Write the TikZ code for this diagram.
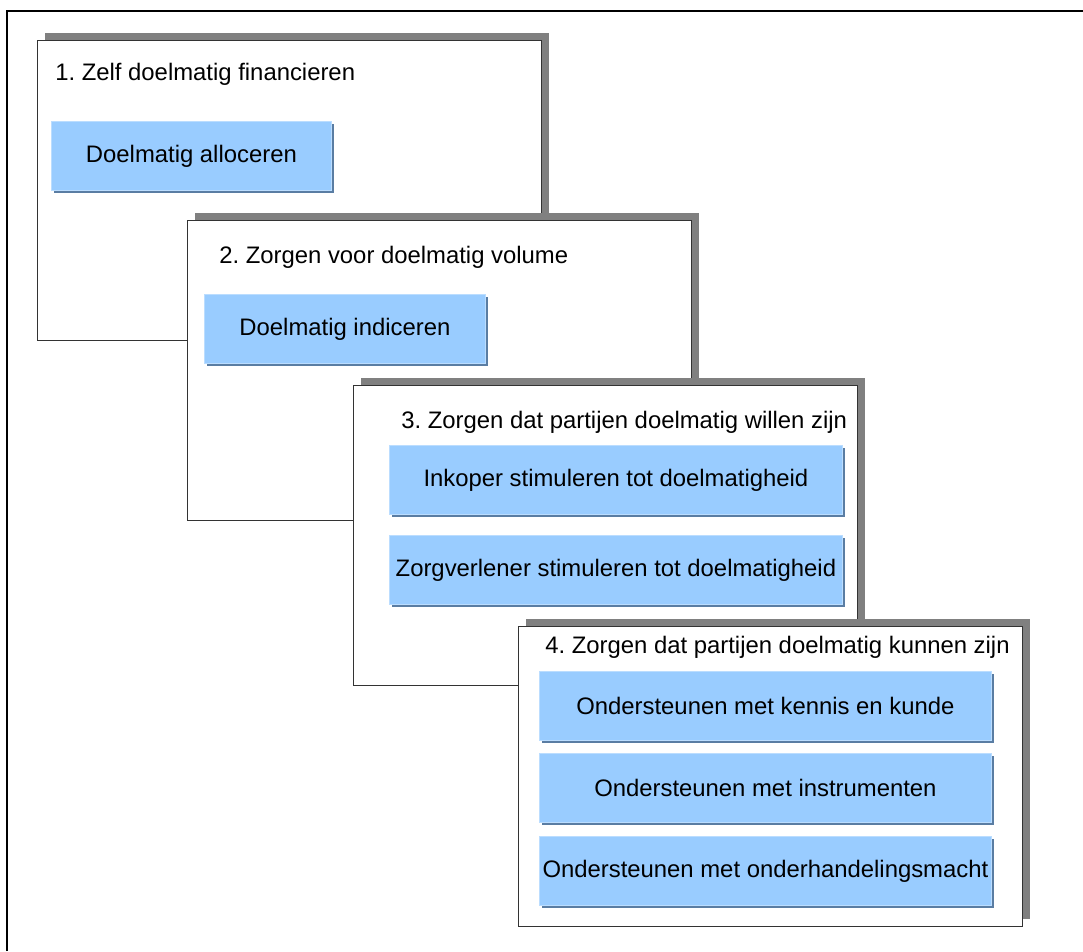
\documentclass[tikz,border=0pt]{standalone}
\usepackage{fontspec}
\setmainfont{Liberation Sans}
\usetikzlibrary{shadows}
\frenchspacing
\definecolor{itemblue}{HTML}{99CCFF}
\definecolor{itemedge}{HTML}{BBDDFF}
\definecolor{itemshade}{HTML}{5A7DA3}
\definecolor{panelshade}{HTML}{808080}
\definecolor{panelline}{HTML}{333333}
\tikzset{
  panel/.style={draw=panelline, line width=0.8pt, fill=white, anchor=north west,
    inner sep=0pt, minimum width=378pt, minimum height=225pt,
    drop shadow={shadow xshift=5.6pt, shadow yshift=6pt, fill=panelshade, opacity=1}},
  paneltitle/.style={anchor=base west, inner sep=0pt, font=\fontsize{17.9}{21}\selectfont},
  itembox/.style={draw=itemedge, line width=0.6pt, fill=itemblue, anchor=north west,
    inner sep=0pt, minimum height=51.75pt, font=\fontsize{17.9}{21}\selectfont,
    drop shadow={shadow xshift=1.6pt, shadow yshift=-1.8pt, fill=itemshade, opacity=1}},
  frameline/.style={line width=1.9pt, black}
}
\begin{document}
\begin{tikzpicture}[x=0.75pt,y=-0.75pt]
\useasboundingbox (0,0) rectangle (1083,951);
% outer frame (only top and left edges visible)
\coordinate (fbl) at (7,951);
\coordinate (ftl) at (7,11);
\coordinate (ftr) at (1083,11);
\draw[frameline] (fbl) -- (ftl) -- (ftr);

% panel 1
\node[panel] (b1) at (37,40) {};
\node[paneltitle] (t1) at (55,80) {1. Zelf doelmatig financieren};
\node[itembox, minimum width=210pt] (i1) at (51,121) {Doelmatig alloceren};

% panel 2
\node[panel] (b2) at (187,220) {};
\node[paneltitle] (t2) at (219,263) {2. Zorgen voor doelmatig volume};
\node[itembox, minimum width=210.75pt] (i2) at (204,294) {Doelmatig indiceren};

% panel 3
\node[panel] (b3) at (353,385) {};
\node[paneltitle] (t3) at (401,428) {3. Zorgen dat partijen doelmatig willen zijn};
\node[itembox, minimum width=339.75pt] (i3a) at (389,445) {Inkoper stimuleren tot doelmatigheid};
\node[itembox, minimum width=339.75pt] (i3b) at (389,535) {Zorgverlener stimuleren tot doelmatigheid};

% panel 4
\node[panel] (b4) at (518,626) {};
\node[paneltitle] (t4) at (545,653) {4. Zorgen dat partijen doelmatig kunnen zijn};
\node[itembox, minimum width=339pt] (i4a) at (539,671) {Ondersteunen met kennis en kunde};
\node[itembox, minimum width=339pt] (i4b) at (539,753) {Ondersteunen met instrumenten};
\node[itembox, minimum width=339pt] (i4c) at (539,836) {Ondersteunen met onderhandelingsmacht};
\end{tikzpicture}
\end{document}
